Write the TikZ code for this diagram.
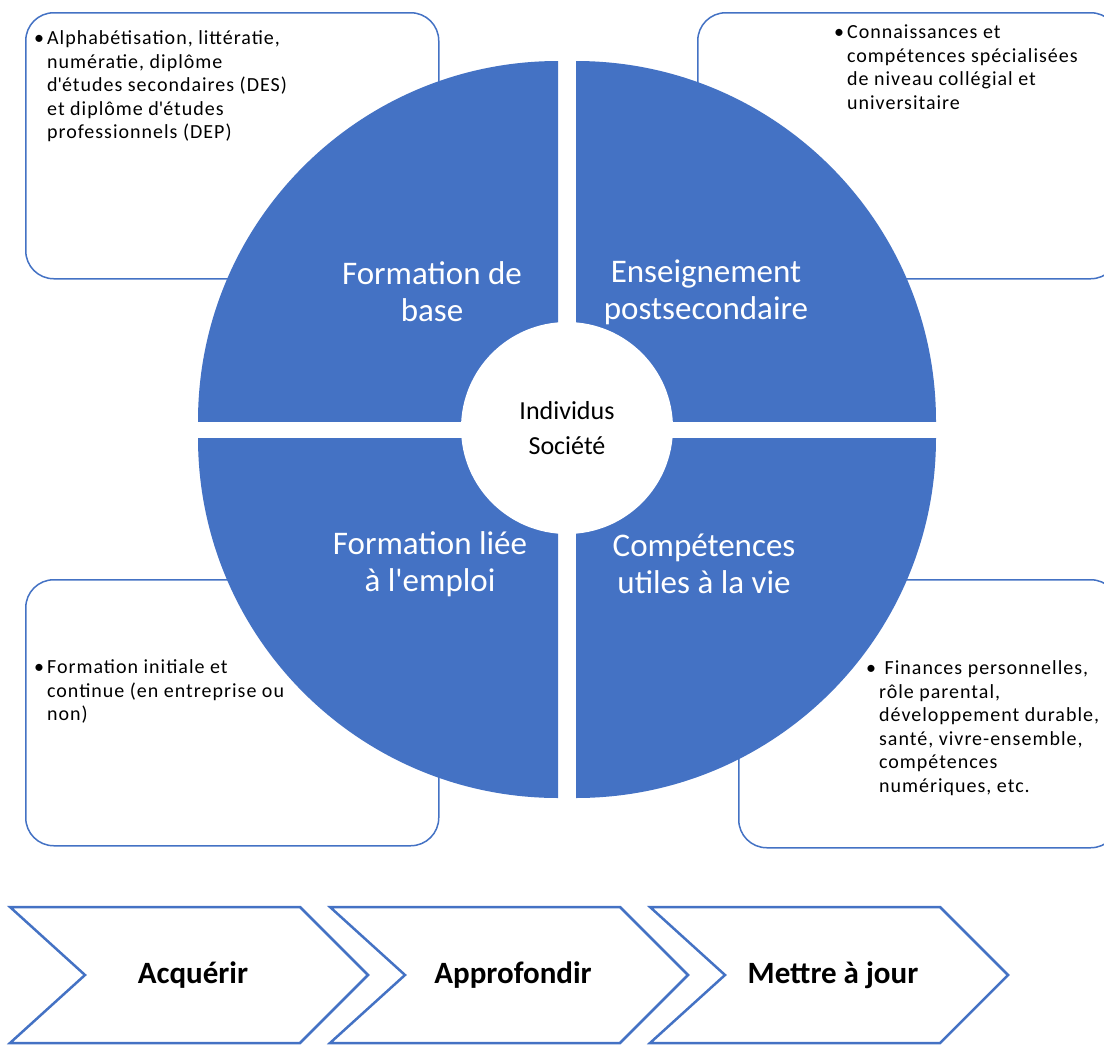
\documentclass[tikz,border=0pt]{standalone}
\usepackage{fontspec}
\setmainfont{Carlito}
\newfontfamily\boxfont[LetterSpace=5]{Carlito}
\usetikzlibrary{calc,shapes}
\definecolor{officeblue}{RGB}{68,114,196}

\newcommand{\puces}[1]{\begin{tabular}{@{}l@{\hspace{3pt}}l@{}}#1\end{tabular}}

\tikzset{
  infobox/.style={draw=officeblue, line width=1.5pt, rounded corners=28pt, fill=white,
    minimum width=413pt, minimum height=266pt, anchor=north west, inner sep=0pt},
  quarter/.style={fill=officeblue},
  quarterlabel/.style={text=white, align=center, font=\fontsize{33}{37}\selectfont},
  hub/.style={circle, fill=white, minimum size=212pt, inner sep=0pt, align=center,
    font=\fontsize{26}{35}\selectfont},
  bullettext/.style={anchor=north west, inner sep=0pt, font=\boxfont\fontsize{20}{23.5}\selectfont},
  chevron/.style={draw=officeblue, line width=2.5pt},
  steplabel/.style={font=\fontsize{31}{34}\selectfont\bfseries}
}

\begin{document}
\begin{tikzpicture}[x=1pt, y=-1pt]
    \useasboundingbox (0,0) rectangle (1104,1047);
    \clip (0,0) rectangle (1104,1047);

    \node [infobox] (boxbase) at (25,12) {};
    \node [infobox, minimum width=421pt] (boxpost) at (697,12) {};
    \node [infobox] (boxemploi) at (25,579) {};
    \node [infobox, minimum width=380pt, minimum height=268pt] (boxvie) at (738,579) {};

    \node [bullettext] (txtbase) at (34,28) {\puces{%
      \textbullet & Alphabétisation, littératie,\\
      & numératie, diplôme\\
      & d\textquotesingle études secondaires (DES)\\
      & et diplôme d\textquotesingle études\\
      & professionnels (DEP)}};
    \node [bullettext] (txtpost) at (834,22) {\puces{%
      \textbullet & Connaissances et\\
      & compétences spécialisées\\
      & de niveau collégial et\\
      & universitaire}};
    \node [bullettext] (txtemploi) at (34,657) {\puces{%
      \textbullet & Formation initiale et\\
      & continue (en entreprise ou\\
      & non)}};
    \node [bullettext] (txtvie) at (866,658) {\puces{%
      \textbullet & \ Finances personnelles,\\
      & rôle parental,\\
      & développement durable,\\
      & santé, vivre-ensemble,\\
      & compétences\\
      & numériques, etc.}};

    \foreach \cx/\cy/\dx/\dy in {558/421/-1/-1, 576/421/1/-1, 558/438/-1/1, 576/438/1/1} {
      \begin{scope}
        \clip (\cx,\cy) rectangle ++(\dx*360,\dy*360);
        \fill [quarter] (\cx,\cy) circle (360);
      \end{scope}
    }

    \node [quarterlabel] (base) at (432,292) {Formation de\\base};
    \node [quarterlabel] (post) at (706,292) {Enseignement\\postsecondaire};
    \node [quarterlabel] (emploi) at (430,564) {Formation liée\\à l\textquotesingle emploi};
    \node [quarterlabel] (vie) at (704,564) {Compétences\\utiles à la vie};

    \node [hub] (centre) at (567,428) {Individus\\Société};

    \foreach \i/\x/\txt in {1/10/Acquérir, 2/330/Approfondir, 3/650/Mettre à jour} {
      \draw [chevron] (\x,907) -- ++(290,0) -- ++(68,68) -- ++(-68,68) -- ++(-290,0) -- ++(75,-68) -- cycle;
      \node [steplabel] (etape\i) at (\x+183,975) {\txt};
    }
\end{tikzpicture}
\end{document}
